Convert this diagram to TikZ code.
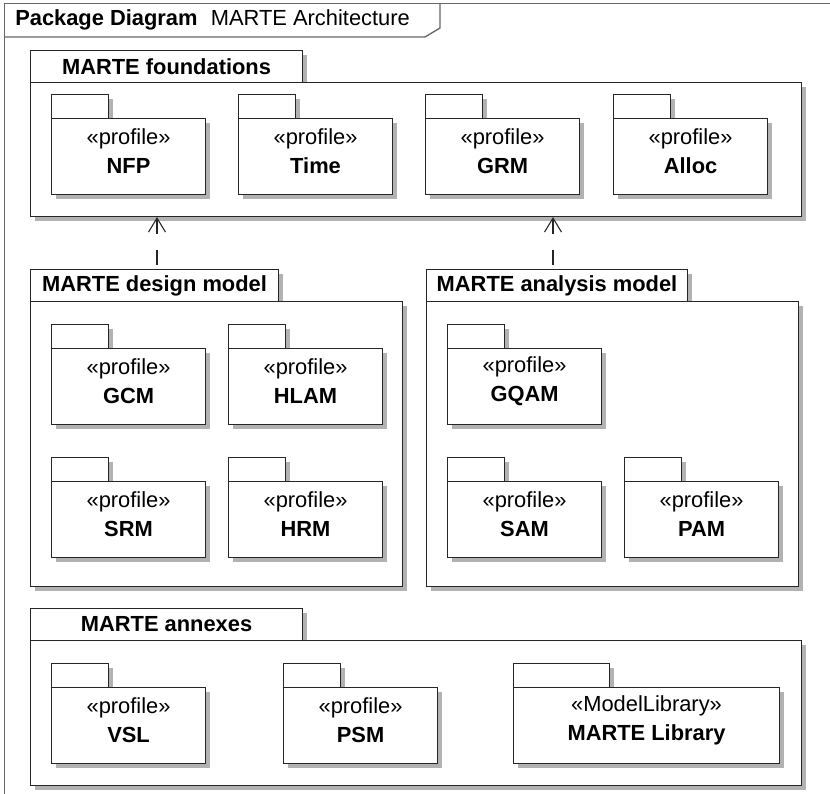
\documentclass[tikz,border=0pt]{standalone}
\usepackage{fontspec}
\setmainfont{Liberation Sans}
\usetikzlibrary{arrows.meta,shadows,calc}
\tikzset{
  shad/.style={drop shadow={shadow xshift=3pt,shadow yshift=-3pt,fill=black!30,opacity=1}},
  box/.style={draw=black!85,line width=0.8pt,fill=white,shad,anchor=north west,inner sep=0pt},
  itab/.style={box,minimum height=24*0.75pt},
  ibody/.style={box,minimum height=76*0.75pt},
  ilabel/.style={align=center,inner sep=0pt,font=\fontsize{16.4}{21.75}\selectfont},
  otab/.style={box,minimum height=32*0.75pt,font=\fontsize{16.4}{18}\selectfont\bfseries},
  obody/.style={box},
  dep/.style={draw=black!85,line width=0.8pt,dash pattern=on 11.25pt off 12pt,
    {Straight Barb[length=10.5pt,width=12.75pt,line width=0.8pt]}-},
  frame/.style={draw=black!60,line width=1pt}
}
\newcommand\pkgin[6]{% name, x, body top y, body width, tab width, text
  \node[itab,minimum width=#5*0.75pt] (#1t) at (#2,#3-24) {};
  \node[ibody,minimum width=#4*0.75pt] (#1) at (#2,#3) {};
  \node[ilabel] (#1l) at ($(#1.north)+(0,33.5)$) {#6};
}
\newcommand\pkgout[7]{% name, x, tab top y, tab width, body width, body height, text
  \node[otab,minimum width=#4*0.75pt] (#1t) at (#2,#3) {#7};
  \node[obody,minimum width=#5*0.75pt,minimum height=#6*0.75pt] (#1) at (#2,#3+32) {};
}
\begin{document}
\begin{tikzpicture}[x=0.75pt,y=-0.75pt]
\useasboundingbox (0,0) rectangle (830,793);
\clip (0,0) rectangle (830,793);
\fill[white] (0,0) rectangle (830,793);
% frame
\node[frame,rectangle,anchor=north west,inner sep=0pt,minimum width=840*0.75pt,minimum height=800*0.75pt] (frame) at (4,3) {};
\coordinate (h1) at (4,37);
\coordinate (h2) at (425,37);
\coordinate (h3) at (440,28);
\coordinate (h4) at (440,3);
\draw[frame] (h1) -- (h2) -- (h3) -- (h4);
\node[anchor=west,inner sep=0pt,font=\fontsize{16.4}{18}\selectfont] (title) at (15,20) {\textbf{Package Diagram}\hspace{10pt}MARTE Architecture};
% MARTE foundations
\pkgout{found}{30}{50}{272}{771}{134}{MARTE foundations}
\pkgin{nfp}{51}{118}{154}{57}{«profile»\\\textbf{NFP}}
\pkgin{time}{238}{118}{154}{57}{«profile»\\\textbf{Time}}
\pkgin{grm}{425}{118}{154}{57}{«profile»\\\textbf{GRM}}
\pkgin{alloc}{613}{118}{154}{57}{«profile»\\\textbf{Alloc}}
% design model
\pkgout{design}{30}{269}{248}{372}{285}{MARTE design model}
\pkgin{gcm}{51}{348}{154}{57}{«profile»\\\textbf{GCM}}
\pkgin{hlam}{228}{348}{154}{57}{«profile»\\\textbf{HLAM}}
\pkgin{srm}{51}{481}{154}{57}{«profile»\\\textbf{SRM}}
\pkgin{hrm}{228}{481}{154}{57}{«profile»\\\textbf{HRM}}
% analysis model
\pkgout{analysis}{426}{269}{261}{372}{285}{MARTE analysis model}
\pkgin{gqam}{447}{348}{154}{57}{«profile»\\\textbf{GQAM}}
\pkgin{sam}{447}{481}{154}{57}{«profile»\\\textbf{SAM}}
\pkgin{pam}{624}{481}{154}{57}{«profile»\\\textbf{PAM}}
% annexes
\pkgout{annex}{30}{608}{272}{771}{145}{MARTE annexes}
\pkgin{vsl}{51}{687}{154}{57}{«profile»\\\textbf{VSL}}
\pkgin{psm}{283}{687}{154}{57}{«profile»\\\textbf{PSM}}
\pkgin{lib}{513}{687}{266}{96}{«ModelLibrary»\\\textbf{MARTE Library}}
% dependencies
\coordinate (a1) at (157,0);
\coordinate (a2) at (553,0);
\draw[dep] (found.south -| a1) -- (designt.north -| a1);
\draw[dep] (found.south -| a2) -- (analysist.north -| a2);
\end{tikzpicture}
\end{document}
